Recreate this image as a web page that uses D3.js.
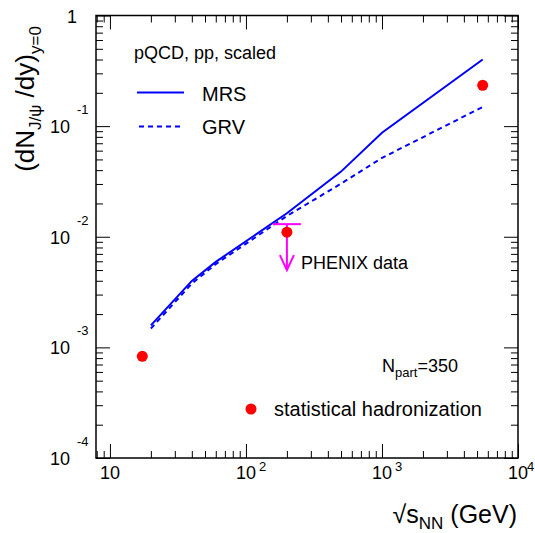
<!DOCTYPE html>
<html>
<head>
<meta charset="utf-8">
<script src="https://cdn.jsdelivr.net/npm/d3@7"></script>
<style>
  body { margin: 0; background: #fff; }
  text { font-family: "Liberation Sans", Arial, Helvetica, sans-serif; fill: #000; }
</style>
</head>
<body>
<div id="chart"></div>
<script>
// sqrt(s_NN) in GeV
var energies = [20, 40, 60, 200, 500, 1000, 5500];
var mrsValues = [1.58e-3, 3.99e-3, 5.93e-3, 0.0163, 0.0388, 0.0871, 0.40];
var grvValues = [1.48e-3, 3.77e-3, 5.66e-3, 0.0154, 0.0302, 0.0516, 0.149];

// statistical hadronization points
var shEnergies = [17.3, 200, 5500];
var shValues = [8.3e-4, 0.011, 0.234];

// PHENIX upper limit
var phenixEnergy = [200];
var phenixLimit = [0.013];
var phenixArrowTo = [0.005];

var xMajor = [10, 100, 1000, 10000];
var xExp = ["", "2", "3", "4"];
var yMajor = [1e-4, 1e-3, 1e-2, 1e-1, 1];
var yExp = ["-4", "-3", "-2", "-1", ""];

var width = 535, height = 533;

var svg = d3.select("#chart").append("svg")
    .attr("width", width)
    .attr("height", height);

var x = d3.scaleLog().domain([7.9, 10000]).range([96, 518]);
var y = d3.scaleLog().domain([1e-4, 1]).range([458, 15.5]);

// minor ticks
var xMinor = [];
[1, 10, 100, 1000].forEach(function(d){
    for (var i = 2; i <= 9; i++) {
        if (d * i >= 7.9 && d * i < 10000) xMinor.push(d * i);
    }
});
var yMinor = [];
[1e-4, 1e-3, 1e-2, 1e-1].forEach(function(d){
    for (var i = 2; i <= 9; i++) yMinor.push(d * i);
});

function tickAxis(gen, vals, size, tx, ty) {
    var g = svg.append("g")
        .attr("transform", "translate(" + tx + "," + ty + ")")
        .call(gen.tickValues(vals).tickSize(size).tickFormat(""));
    g.select(".domain").remove();
    g.selectAll("line").attr("stroke", "#000").attr("stroke-width", 1);
}

// bottom / top
tickAxis(d3.axisTop(x), xMajor, 14, 0, y.range()[0]);
tickAxis(d3.axisTop(x), xMinor, 7, 0, y.range()[0]);
tickAxis(d3.axisBottom(x), xMajor, 14, 0, y.range()[1]);
tickAxis(d3.axisBottom(x), xMinor, 7, 0, y.range()[1]);
// left / right
tickAxis(d3.axisRight(y), yMajor, 14, x.range()[0], 0);
tickAxis(d3.axisRight(y), yMinor, 7, x.range()[0], 0);
tickAxis(d3.axisLeft(y), yMajor, 14, x.range()[1], 0);
tickAxis(d3.axisLeft(y), yMinor, 7, x.range()[1], 0);

// frame
svg.append("rect")
    .attr("x", x.range()[0])
    .attr("y", y.range()[1])
    .attr("width", x.range()[1] - x.range()[0])
    .attr("height", y.range()[0] - y.range()[1])
    .attr("fill", "none")
    .attr("stroke", "#000")
    .attr("stroke-width", 1.5);

// x tick labels
xMajor.forEach(function(v, i){
    svg.append("text")
        .attr("x", x(v))
        .attr("y", 479)
        .attr("text-anchor", "middle")
        .style("font-size", "18px")
        .text("10");
    if (xExp[i] != "") {
        svg.append("text")
            .attr("x", Math.min(x(v) + 13, 527))
            .attr("y", 471)
            .style("font-size", "13px")
            .text(xExp[i]);
    }
});

// y tick labels
yMajor.forEach(function(v, i){
    if (yExp[i] == "") {
        svg.append("text")
            .attr("x", 72)
            .attr("y", y(v) + 7)
            .attr("text-anchor", "middle")
            .style("font-size", "18px")
            .text("1");
    } else {
        svg.append("text")
            .attr("x", 70)
            .attr("y", y(v) + 7)
            .attr("text-anchor", "end")
            .style("font-size", "18px")
            .text("10");
        svg.append("text")
            .attr("x", 77)
            .attr("y", y(v) - 12)
            .style("font-size", "13px")
            .text(yExp[i]);
    }
});

// curves
var line = d3.line()
    .x(function(d){ return x(d[0]); })
    .y(function(d){ return y(d[1]); });

svg.append("path")
    .datum(d3.zip(energies, mrsValues))
    .attr("d", line)
    .attr("fill", "none")
    .attr("stroke", "#0000ff")
    .attr("stroke-width", 2);

svg.append("path")
    .datum(d3.zip(energies, grvValues))
    .attr("d", line)
    .attr("fill", "none")
    .attr("stroke", "#0000ff")
    .attr("stroke-width", 2)
    .attr("stroke-dasharray", "5,4");

// PHENIX limit
phenixEnergy.forEach(function(e, i){
    var px = x(e), py = y(phenixLimit[i]), pa = y(phenixArrowTo[i]);
    svg.append("line")
        .attr("x1", px - 14).attr("x2", px + 14)
        .attr("y1", py).attr("y2", py)
        .attr("stroke", "#ff00ff").attr("stroke-width", 2);
    svg.append("line")
        .attr("x1", px).attr("x2", px)
        .attr("y1", py).attr("y2", pa)
        .attr("stroke", "#ff00ff").attr("stroke-width", 2);
    svg.append("polyline")
        .attr("points", (px - 7) + "," + (pa - 15) + " " + px + "," + pa + " " + (px + 7) + "," + (pa - 15))
        .attr("fill", "none")
        .attr("stroke", "#ff00ff").attr("stroke-width", 2);
});

// statistical hadronization
svg.selectAll("circle.sh")
    .data(d3.zip(shEnergies, shValues))
    .enter().append("circle")
    .attr("class", "sh")
    .attr("cx", function(d){ return x(d[0]); })
    .attr("cy", function(d){ return y(d[1]); })
    .attr("r", 5.5)
    .attr("fill", "#ff0000");

// texts
svg.append("text")
    .attr("x", 134).attr("y", 59)
    .style("font-size", "18px")
    .text("pQCD, pp, scaled");

svg.append("line")
    .attr("x1", 137).attr("x2", 184)
    .attr("y1", 92.5).attr("y2", 92.5)
    .attr("stroke", "#0000ff").attr("stroke-width", 2);
svg.append("text")
    .attr("x", 202).attr("y", 101)
    .style("font-size", "20px")
    .text("MRS");

svg.append("line")
    .attr("x1", 139).attr("x2", 184)
    .attr("y1", 126.5).attr("y2", 126.5)
    .attr("stroke", "#0000ff").attr("stroke-width", 2)
    .attr("stroke-dasharray", "5,4");
svg.append("text")
    .attr("x", 202).attr("y", 134)
    .style("font-size", "20px")
    .text("GRV");

svg.append("text")
    .attr("x", 301).attr("y", 269)
    .style("font-size", "18px")
    .text("PHENIX data");

var np = svg.append("text")
    .attr("x", 382).attr("y", 372)
    .style("font-size", "18px");
np.append("tspan").text("N");
np.append("tspan").attr("dy", 5).style("font-size", "13px").text("part");
np.append("tspan").attr("dy", -5).text("=350");

svg.append("circle")
    .attr("cx", 251).attr("cy", 409)
    .attr("r", 5.5)
    .attr("fill", "#ff0000");
svg.append("text")
    .attr("x", 274).attr("y", 416)
    .style("font-size", "20px")
    .text("statistical hadronization");

// axis titles
var xt = svg.append("text")
    .attr("x", 517).attr("y", 523)
    .attr("text-anchor", "end")
    .style("font-size", "25px");
xt.append("tspan").text("\u221As");
xt.append("tspan").attr("dy", 6).style("font-size", "17px").text("NN");
xt.append("tspan").attr("dy", -6).text(" (GeV)");

var yt = svg.append("text")
    .attr("transform", "translate(34,99) rotate(-90)")
    .attr("text-anchor", "middle")
    .style("font-size", "26px");
yt.append("tspan").text("(dN");
yt.append("tspan").attr("dy", 7).style("font-size", "17px").text("J/\u03C8");
yt.append("tspan").attr("dy", -7).text(" /dy)");
yt.append("tspan").attr("dy", 7).style("font-size", "17px").text("y=0");
</script>
</body>
</html>
